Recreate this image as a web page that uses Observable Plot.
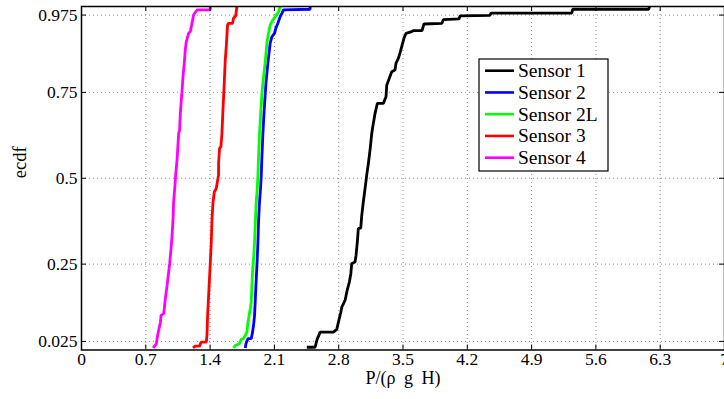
<!DOCTYPE html>
<html>
<head>
<meta charset="utf-8">
<script src="https://cdn.jsdelivr.net/npm/d3@7"></script>
<script src="https://cdn.jsdelivr.net/npm/@observablehq/plot@0.6"></script>
<style>
  html, body { margin: 0; padding: 0; background: #fff; }
  #chart svg { display: block; }
  #chart svg, #chart svg text { font-family: "Liberation Serif", "DejaVu Serif", serif !important; }
  #chart svg .xlab text { word-spacing: 4px; }
</style>
</head>
<body>
<div id="chart"></div>
<script>
// ---- data ----
const sensorNames = ["Sensor 1", "Sensor 2", "Sensor 2L", "Sensor 3", "Sensor 4"];
const sensorColors = ["#000000", "#0000ff", "#00ff00", "#ff0000", "#ff00ff"];

const xTicks = [0, 0.7, 1.4, 2.1, 2.8, 3.5, 4.2, 4.9, 5.6, 6.3, 7];
const xTickLabels = ["0", "0.7", "1.4", "2.1", "2.8", "3.5", "4.2", "4.9", "5.6", "6.3", "7"];
const yTicks = [0.025, 0.25, 0.5, 0.75, 0.975];
const yTickLabels = ["0.025", "0.25", "0.5", "0.75", "0.975"];

// ecdf curves: [P/(rho g H), ecdf]
const sensor1 = [
  [2.453,0.008],[2.543,0.008],[2.565,0.031],[2.598,0.052],[2.742,0.052],[2.779,0.060],
  [2.797,0.081],[2.823,0.110],[2.834,0.125],[2.870,0.145],[2.888,0.169],[2.916,0.198],
  [2.932,0.222],[2.942,0.252],[2.978,0.256],[2.989,0.276],[3.003,0.315],[3.014,0.354],
  [3.040,0.355],[3.051,0.392],[3.068,0.431],[3.087,0.470],[3.105,0.509],[3.123,0.543],
  [3.141,0.582],[3.160,0.631],[3.171,0.650],[3.196,0.689],[3.221,0.718],[3.286,0.718],
  [3.315,0.737],[3.323,0.771],[3.351,0.791],[3.377,0.810],[3.413,0.815],[3.424,0.835],
  [3.449,0.849],[3.467,0.864],[3.486,0.883],[3.511,0.908],[3.533,0.922],[3.595,0.927],
  [3.612,0.930],[3.707,0.930],[3.728,0.949],[3.924,0.951],[3.940,0.962],[4.109,0.964],
  [4.123,0.973],[4.446,0.974],[4.460,0.981],[5.337,0.981],[5.348,0.992],[6.174,0.992],
  [6.185,1.0]
];
const sensor2 = [
  [1.783,0.006],[1.790,0.018],[1.812,0.033],[1.848,0.033],[1.862,0.052],[1.873,0.072],
  [1.884,0.101],[1.891,0.140],[1.899,0.188],[1.910,0.247],[1.921,0.315],[1.927,0.373],
  [1.938,0.431],[1.949,0.470],[1.957,0.509],[1.964,0.562],[1.975,0.631],[1.989,0.699],
  [2.008,0.776],[2.029,0.835],[2.054,0.893],[2.073,0.912],[2.101,0.922],[2.116,0.937],
  [2.138,0.951],[2.163,0.971],[2.182,0.980],[2.199,0.990],[2.489,0.992],[2.489,1.0]
];
const sensor2L = [
  [1.655,0.006],[1.674,0.013],[1.717,0.018],[1.739,0.031],[1.764,0.033],[1.801,0.052],
  [1.812,0.081],[1.837,0.120],[1.848,0.140],[1.855,0.188],[1.862,0.227],[1.873,0.266],
  [1.884,0.315],[1.891,0.363],[1.902,0.431],[1.913,0.470],[1.921,0.509],[1.927,0.562],
  [1.938,0.631],[1.949,0.679],[1.964,0.747],[1.982,0.796],[2.000,0.839],[2.018,0.893],
  [2.036,0.922],[2.054,0.946],[2.073,0.956],[2.109,0.971],[2.127,0.976],[2.145,0.985],
  [2.163,1.0]
];
const sensor3 = [
  [1.214,0.006],[1.239,0.011],[1.286,0.011],[1.301,0.023],[1.359,0.023],[1.366,0.043],
  [1.373,0.101],[1.384,0.159],[1.395,0.217],[1.402,0.252],[1.413,0.315],[1.421,0.383],
  [1.432,0.431],[1.446,0.460],[1.467,0.470],[1.482,0.494],[1.492,0.509],[1.492,0.543],
  [1.503,0.587],[1.518,0.592],[1.529,0.631],[1.540,0.699],[1.554,0.776],[1.565,0.844],
  [1.576,0.883],[1.590,0.946],[1.601,0.951],[1.645,0.951],[1.655,0.966],[1.679,0.973],
  [1.692,1.0]
];
const sensor4 = [
  [0.779,0.006],[0.815,0.018],[0.829,0.043],[0.859,0.081],[0.866,0.101],[0.895,0.106],
  [0.913,0.150],[0.932,0.188],[0.949,0.227],[0.960,0.252],[0.975,0.295],[0.986,0.334],
  [0.997,0.383],[1.003,0.431],[1.018,0.480],[1.025,0.509],[1.040,0.553],[1.058,0.631],
  [1.068,0.640],[1.076,0.689],[1.095,0.757],[1.105,0.796],[1.120,0.839],[1.130,0.874],
  [1.141,0.898],[1.166,0.922],[1.185,0.927],[1.203,0.951],[1.221,0.976],[1.258,0.990],
  [1.402,0.990],[1.402,1.0]
];
const xLabel = "P/(ρ g H)";
const yLabel = "ecdf";

// ---- build table ----
const series = [sensor1, sensor2, sensor2L, sensor3, sensor4];
const rows = series.flatMap((pts, i) => pts.map(([x, y]) => ({x, y, sensor: sensorNames[i]})));

// ---- layout ----
const W = 724, H = 399;
const mTop = 6, mLeft = 81, mRight = 0, mBottom = 49.5;
const plotW = W - mLeft - mRight, plotH = H - mTop - mBottom;
const tickLen = 5;
const font = "Liberation Serif, DejaVu Serif, serif";
const tickFont = 17.5;

const chart = Plot.plot({
  width: W, height: H,
  marginTop: mTop, marginLeft: mLeft, marginRight: mRight, marginBottom: mBottom,
  style: "font-family: 'Liberation Serif', serif; font-size: 17px; background: #fff; color: #000; overflow: visible;",
  x: {domain: [0, 7]},
  y: {domain: [0, 1]},
  color: {domain: sensorNames, range: sensorColors},
  marks: [
    Plot.gridX(xTicks, {stroke: "#8c8c8c", strokeOpacity: 1, strokeWidth: 1, strokeDasharray: "1,3"}),
    Plot.gridY(yTicks, {stroke: "#8c8c8c", strokeOpacity: 1, strokeWidth: 1, strokeDasharray: "1,3"}),
    Plot.line(rows, {x: "x", y: "y", z: "sensor", stroke: "sensor", strokeWidth: 2.8, strokeLinejoin: "miter", strokeLinecap: "butt"}),
    // inward ticks on all four sides
    Plot.ruleX(xTicks, {insetTop: plotH - tickLen, stroke: "#000", strokeWidth: 1}),
    Plot.ruleX(xTicks, {insetBottom: plotH - tickLen, stroke: "#000", strokeWidth: 1}),
    Plot.ruleY(yTicks, {insetRight: plotW - tickLen, stroke: "#000", strokeWidth: 1}),
    Plot.ruleY(yTicks, {insetLeft: plotW - tickLen, stroke: "#000", strokeWidth: 1}),
    Plot.frame({stroke: "#000", strokeWidth: 1.5}),
    Plot.axisX(xTicks, {tickSize: 0, tickPadding: 3, label: null, tickFormat: (d, i) => xTickLabels[i], fontSize: tickFont, fontFamily: font}),
    Plot.axisY(yTicks, {tickSize: 0, tickPadding: 4, label: null, tickFormat: (d, i) => yTickLabels[i], fontSize: tickFont, fontFamily: font}),
    Plot.text([xLabel], {frameAnchor: "bottom", dy: 33.5, fontSize: 18, fontFamily: font, className: "xlab"}),
    Plot.text([yLabel], {frameAnchor: "left", dx: -61, rotate: -90, fontSize: 18.5, fontFamily: font})
  ]
});

// ---- legend (inside the plot, top right) ----
const svg = d3.select(chart);
const lg = svg.append("g").attr("font-family", font).attr("font-size", 19.5).attr("text-anchor", "start");
const boxX = 479, boxY = 59, boxW = 129, boxH = 112, rowH = 21.75;
lg.append("rect").attr("x", boxX).attr("y", boxY).attr("width", boxW).attr("height", boxH)
  .attr("fill", "#fff").attr("stroke", "#000").attr("stroke-width", 1.2);
sensorNames.forEach((name, i) => {
  const cy = boxY + 11.7 + i * rowH;
  lg.append("line").attr("x1", boxX + 6).attr("x2", boxX + 35).attr("y1", cy).attr("y2", cy)
    .attr("stroke", sensorColors[i]).attr("stroke-width", 2.6);
  lg.append("text").attr("x", boxX + 39).attr("y", cy).attr("dy", "0.33em")
    .attr("text-anchor", "start").attr("fill", "#000").text(name);
});

document.getElementById("chart").append(chart);
</script>
</body>
</html>
